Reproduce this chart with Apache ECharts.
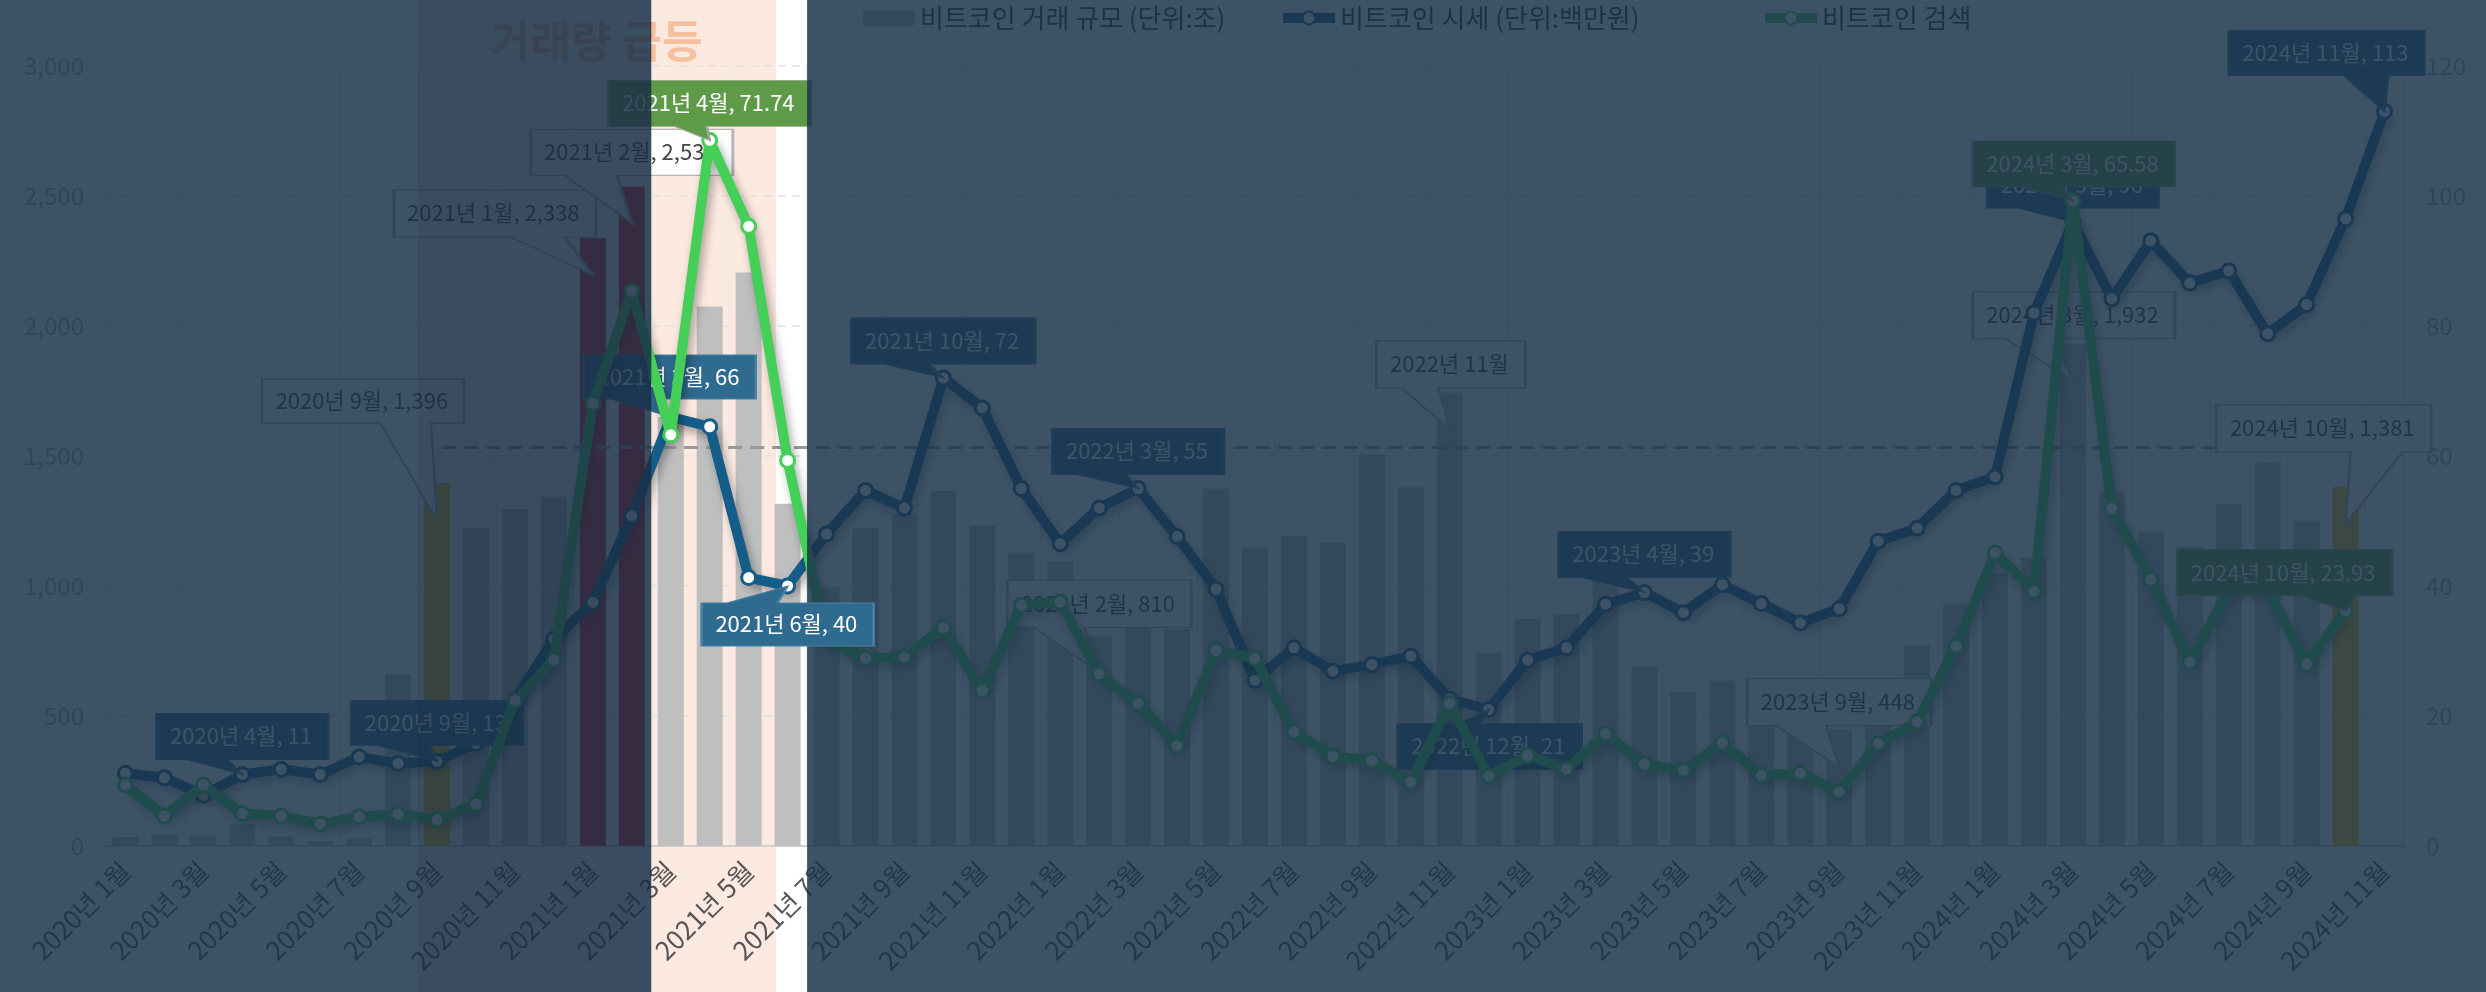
<!DOCTYPE html>
<html>
<head>
<meta charset="utf-8">
<title>비트코인 거래 규모 · 시세 · 검색</title>
<script src="https://cdn.jsdelivr.net/npm/echarts@6/dist/echarts.min.js"></script>
<style>
  html, body { margin: 0; padding: 0; background: #fff; }
  #main { width: 2486px; height: 992px; }
</style>
</head>
<body>
<div id="main"></div>
<script>
// 카테고리 (월)
var months = [
  '2020년 1월', '2020년 2월', '2020년 3월', '2020년 4월', '2020년 5월', '2020년 6월',
  '2020년 7월', '2020년 8월', '2020년 9월', '2020년 10월', '2020년 11월', '2020년 12월',
  '2021년 1월', '2021년 2월', '2021년 3월', '2021년 4월', '2021년 5월', '2021년 6월',
  '2021년 7월', '2021년 8월', '2021년 9월', '2021년 10월', '2021년 11월', '2021년 12월',
  '2022년 1월', '2022년 2월', '2022년 3월', '2022년 4월', '2022년 5월', '2022년 6월',
  '2022년 7월', '2022년 8월', '2022년 9월', '2022년 10월', '2022년 11월', '2022년 12월',
  '2023년 1월', '2023년 2월', '2023년 3월', '2023년 4월', '2023년 5월', '2023년 6월',
  '2023년 7월', '2023년 8월', '2023년 9월', '2023년 10월', '2023년 11월', '2023년 12월',
  '2024년 1월', '2024년 2월', '2024년 3월', '2024년 4월', '2024년 5월', '2024년 6월',
  '2024년 7월', '2024년 8월', '2024년 9월', '2024년 10월', '2024년 11월'
];

// 비트코인 거래 규모 (단위:조)
var tradeVolume = [
  35, 44, 41, 83, 36, 19, 29, 662, 1396, 1223, 1296, 1344,
  2338, 2537, 1650, 2075, 2206, 1316, 994, 1224, 1278, 1365, 1233, 1128,
  1094, 810, 850, 836, 1375, 1148, 1193, 1166, 1506, 1379, 1743, 743,
  873, 891, 1050, 692, 593, 636, 520, 480, 448, 600, 772, 934,
  1050, 1108, 1932, 1363, 1210, 1150, 1316, 1475, 1251, 1381, null
];

// 비트코인 시세 (단위:백만원)
var btcPrice = [
  11.2, 10.5, 7.8, 11, 11.8, 11, 13.7, 12.7, 13, 15.8, 22.5, 31.8,
  37.5, 50.8, 66, 64.5, 41.3, 40, 48, 54.7, 52, 72, 67.4, 55,
  46.5, 52, 55, 47.6, 39.5, 25.5, 30.5, 26.9, 27.9, 29.2, 22.6, 21,
  28.6, 30.5, 37.2, 39, 35.9, 40.2, 37.3, 34.3, 36.5, 46.9, 48.9, 54.7,
  56.8, 82, 96, 84.2, 93.1, 86.6, 88.5, 78.8, 83.3, 96.5, 113
];

// 비트코인 검색
var btcSearch = [
  6.2, 3.05, 6.2, 3.3, 3.05, 2.24, 2.97, 3.23, 2.69, 4.24, 14.8, 18.9,
  45, 56.4, 41.8, 71.74, 63, 39.2, 20.9, 19.1, 19.2, 22.2, 15.8, 24.5,
  24.8, 17.5, 14.5, 10.2, 19.9, 19.1, 11.6, 9.1, 8.7, 6.5, 14.5, 7.1,
  9.2, 7.8, 11.4, 8.3, 7.7, 10.5, 7.2, 7.4, 5.5, 10.4, 12.6, 20.3,
  29.8, 25.9, 65.58, 34.3, 27.1, 18.7, 26, 26, 18.5, 23.93, null
];

// 기준선 (거래 규모 축)
var refLevel = 1535;

var goldMonths = ['2020년 9월', '2024년 10월'];
var redMonths = ['2021년 1월', '2021년 2월'];

// 강조 구간
var spotStart = '2021년 3월';
var spotEnd = '2021년 7월';
var dimStart = '2020년 9월';

var NAME_VOL = '비트코인 거래 규모 (단위:조)';
var NAME_PRICE = '비트코인 시세 (단위:백만원)';
var NAME_SEARCH = '비트코인 검색';

var FONT = '"Noto Sans CJK KR", "Noto Sans", sans-serif';
var NOTE_SIZE = 22;

// 말풍선 위치 (점 기준 px)
var volumeNotes = [
  {month: '2020년 9월', cx: -74, top: -141, h: 44, tail: [-57, -6]},
  {month: '2021년 1월', cx: -98, top: -85, h: 47, tail: [-82, -28]},
  {month: '2021년 2월', cx: 0, top: -94, h: 46, tail: [-67, -15]},
  {month: '2022년 2월', cx: 0, top: -92, h: 47, tail: [-65, -15]},
  {month: '2022년 11월', cx: 1, top: -89, h: 47, tail: [-48, -11], monthOnly: true},
  {month: '2023년 9월', cx: 0, top: -88, h: 47, tail: [-64, -13]},
  {month: '2024년 3월', cx: 1, top: -89, h: 47, tail: [-68, -18]},
  {month: '2024년 10월', cx: -22, top: -119, h: 47, tail: [5, 57]}
];
var priceNotes = [
  {month: '2020년 4월', cx: 0, top: -61, h: 46, tail: [-56, -15]},
  {month: '2020년 9월', cx: 0, top: -61, h: 45, tail: [-60, -7]},
  {month: '2021년 3월', cx: -1, top: -62, h: 44, tail: [-60, -10]},
  {month: '2021년 10월', cx: 0, top: -60, h: 46, tail: [-60, -14]},
  {month: '2022년 3월', cx: 0, top: -60, h: 46, tail: [-62, -12]},
  {month: '2022년 12월', cx: 1, top: 14, h: 46, tail: [-30, -8]},
  {month: '2023년 4월', cx: 0, top: -61, h: 46, tail: [-63, -17]},
  {month: '2024년 3월', cx: 0, top: -60, h: 46, tail: [-56, -6]},
  {month: '2024년 11월', cx: -58, top: -81, h: 45, tail: [-41, 4]}
];
var priceTopNotes = [
  {month: '2021년 6월', cx: 0, top: 17, h: 43, tail: [-61, -10]}
];
var searchNotes = [
  {month: '2021년 4월', cx: 0, top: -60, h: 46, tail: [-35, -3]},
  {month: '2024년 3월', cx: 1, top: -60, h: 46, tail: [-50, -10]},
  {month: '2024년 10월', cx: -61, top: -61, h: 46, tail: [-45, 10]}
];

var LOOK = {
  volume: {fill: 'rgba(255,255,255,0.94)', stroke: '#b5b5b5', sw: 2, text: '#444'},
  price: {fill: '#2f6a8f', stroke: '#4a80a3', sw: 1.5, text: '#fff'},
  search: {fill: '#5f9a48', stroke: '#9aa994', sw: 1.5, text: '#fff'}
};

var measureCtx = document.createElement('canvas').getContext('2d');
function textWidth(text) {
  measureCtx.font = NOTE_SIZE + 'px ' + FONT;
  return measureCtx.measureText(text).width;
}

// 꼬리 달린 말풍선 (markPoint path 심볼)
function callout(coord, text, spec, look, extraDy) {
  var bw = Math.round(textWidth(text) + 30);
  var bx = spec.cx - bw / 2, by = spec.top, bh = spec.h;
  var below = by > 0;
  var ty = below ? by : by + bh;
  var lo = Math.min(spec.tail[0], spec.tail[1]), hi = Math.max(spec.tail[0], spec.tail[1]);
  var t1 = Math.max(bx + 3, Math.min(lo, bx + bw - 3));
  var t2 = Math.max(bx + 3, Math.min(hi, bx + bw - 3));
  var pts;
  if (!below) {
    pts = [[bx, by], [bx + bw, by], [bx + bw, ty], [t2, ty], [0, 0], [t1, ty], [bx, ty]];
  } else {
    pts = [[bx, by], [t1, by], [0, 0], [t2, by], [bx + bw, by], [bx + bw, by + bh], [bx, by + bh]];
  }
  var minX = Math.min(bx, 0), maxX = Math.max(bx + bw, 0);
  var minY = Math.min(by, 0), maxY = Math.max(by + bh, 0);
  var d = pts.map(function (p, k) {
    return (k ? 'L' : 'M') + (p[0] - minX).toFixed(1) + ' ' + (p[1] - minY).toFixed(1);
  }).join(' ') + ' Z';
  return {
    coord: coord,
    symbol: 'path://' + d,
    symbolSize: [maxX - minX, maxY - minY],
    symbolOffset: [(minX + maxX) / 2, (minY + maxY) / 2 + (extraDy || 0)],
    itemStyle: {color: look.fill, borderColor: look.stroke, borderWidth: look.sw},
    label: {
      show: true,
      formatter: text,
      position: [bx - minX + bw / 2, by - minY + bh / 2],
      align: 'center',
      verticalAlign: 'middle',
      color: look.text,
      fontSize: NOTE_SIZE,
      fontFamily: FONT
    }
  };
}

function volumeCallouts() {
  return volumeNotes.map(function (n) {
    var i = months.indexOf(n.month);
    var v = tradeVolume[i];
    var text = n.monthOnly ? n.month : n.month + ', ' + v.toLocaleString('en-US');
    return callout([n.month, v], text, n, LOOK.volume, 37);
  });
}
function priceCallouts(list) {
  return list.map(function (n) {
    var v = btcPrice[months.indexOf(n.month)];
    return callout([n.month, v], n.month + ', ' + v, n, LOOK.price, 0);
  });
}
function searchCallouts() {
  return searchNotes.map(function (n) {
    var v = btcSearch[months.indexOf(n.month)];
    return callout([n.month, v], n.month + ', ' + v.toFixed(2), n, LOOK.search, 0);
  });
}

function barColor(m) {
  if (goldMonths.indexOf(m) >= 0) return '#f2c21b';
  if (redMonths.indexOf(m) >= 0) return '#e3242f';
  return '#bfbfbf';
}

var lineShadow = {shadowColor: 'rgba(0,0,0,0.35)', shadowBlur: 10, shadowOffsetX: 3, shadowOffsetY: 5};

var legendBase = {
  top: 0, itemWidth: 52, itemHeight: 16, selectedMode: false,
  lineStyle: {width: 10},
  textStyle: {fontSize: 26, color: '#333', fontFamily: FONT}
};

var chart = echarts.init(document.getElementById('main'));
var option = {
  animation: false,
  backgroundColor: '#fff',
  title: {
    text: '거래량 급등', left: 485, top: 14,
    textStyle: {fontSize: 44, fontWeight: 'bold', color: '#f6bf9f', fontFamily: FONT}
  },
  legend: [
    Object.assign({data: [NAME_VOL], left: 858}, legendBase),
    Object.assign({data: [NAME_PRICE], left: 1273}, legendBase),
    Object.assign({data: [NAME_SEARCH], left: 1755}, legendBase)
  ],
  grid: {left: 106, right: 82, top: 66, bottom: 146},
  xAxis: {
    type: 'category',
    data: months,
    axisLine: {lineStyle: {color: '#d0d0d0', width: 2}},
    axisTick: {show: false},
    axisLabel: {interval: 1, rotate: 45, fontSize: 26, color: '#555', margin: 20, fontFamily: FONT},
    splitLine: {show: true, interval: 1, lineStyle: {color: '#ececec', width: 1.5}}
  },
  yAxis: [
    {
      type: 'value', min: 0, max: 3000, interval: 500, position: 'left',
      axisLine: {show: false}, axisTick: {show: false},
      axisLabel: {fontSize: 24, color: '#aaa', margin: 22, fontFamily: FONT,
        formatter: function (v) { return v.toLocaleString('en-US'); }},
      splitLine: {lineStyle: {type: [8, 6], color: '#e2e2e2', width: 1.5}}
    },
    {
      type: 'value', min: 0, max: 120, interval: 20, position: 'right',
      axisLine: {show: false}, axisTick: {show: false},
      axisLabel: {fontSize: 24, color: '#aaa', margin: 22, fontFamily: FONT},
      splitLine: {show: false}
    },
    {type: 'value', min: 0, max: 79.3, show: false}
  ],
  series: [
    {
      name: NAME_VOL, type: 'bar', yAxisIndex: 0, barWidth: 26, z: 2,
      itemStyle: {color: '#bfbfbf'},
      data: tradeVolume.map(function (v, i) {
        return v == null ? '-' : {value: v, itemStyle: {color: barColor(months[i])}};
      }),
      markLine: {
        z: 3, silent: true, symbol: 'none', label: {show: false},
        lineStyle: {type: [14, 8], color: '#9a9a9a', width: 3},
        data: [[{coord: ['2020년 8월', refLevel]}, {coord: ['2024년 11월', refLevel]}]]
      },
      markPoint: {z: 3, silent: true, data: volumeCallouts()}
    },
    {
      name: NAME_PRICE, type: 'line', yAxisIndex: 1, z: 4,
      data: btcPrice,
      symbol: 'circle', symbolSize: 14,
      itemStyle: {color: '#fff', borderColor: '#155d89', borderWidth: 3},
      lineStyle: Object.assign({color: '#155d89', width: 10}, lineShadow),
      markPoint: {z: 5, silent: true, data: priceCallouts(priceNotes)}
    },
    {
      name: NAME_SEARCH, type: 'line', yAxisIndex: 2, z: 6,
      data: btcSearch,
      symbol: 'circle', symbolSize: 14,
      itemStyle: {color: '#fff', borderColor: '#44d058', borderWidth: 3},
      lineStyle: Object.assign({color: '#44d058', width: 10}, lineShadow),
      markPoint: {z: 7, silent: true, data: searchCallouts()}
    },
    {
      name: '시세 말풍선', type: 'line', yAxisIndex: 1, z: 60, silent: true,
      data: btcPrice, symbol: 'none', lineStyle: {opacity: 0, width: 0},
      markPoint: {z: 60, silent: true, data: priceCallouts(priceTopNotes)}
    }
  ]
};
chart.setOption(option);

// 스포트라이트 오버레이 (카테고리 경계 기준)
function bandEdge(i) {
  var c0 = chart.convertToPixel({xAxisIndex: 0}, 0);
  var c1 = chart.convertToPixel({xAxisIndex: 0}, 1);
  return c0 + (c1 - c0) * (i - 0.5);
}
var W = chart.getWidth(), H = chart.getHeight();
var eDim = bandEdge(months.indexOf(dimStart));
var eSpot = bandEdge(months.indexOf(spotStart));
var eEnd = bandEdge(months.indexOf(spotEnd));
var ePeach = bandEdge(months.indexOf(spotEnd) - 1) + (eEnd - eSpot) / 4 * 0.2;
var shade = 'rgba(26,50,74,0.845)';

chart.setOption({
  graphic: [
    {type: 'rect', z: -1, silent: true, shape: {x: eSpot, y: 0, width: ePeach - eSpot, height: H}, style: {fill: '#fce9e0'}},
    {type: 'rect', z: 50, silent: true, shape: {x: 0, y: 0, width: eSpot, height: H}, style: {fill: shade}},
    {type: 'rect', z: 50, silent: true, shape: {x: eDim, y: 0, width: eSpot - eDim, height: H}, style: {fill: 'rgba(10,20,30,0.07)'}},
    {type: 'rect', z: 50, silent: true, shape: {x: eEnd, y: 0, width: W - eEnd, height: H}, style: {fill: shade}}
  ]
});
</script>
</body>
</html>
